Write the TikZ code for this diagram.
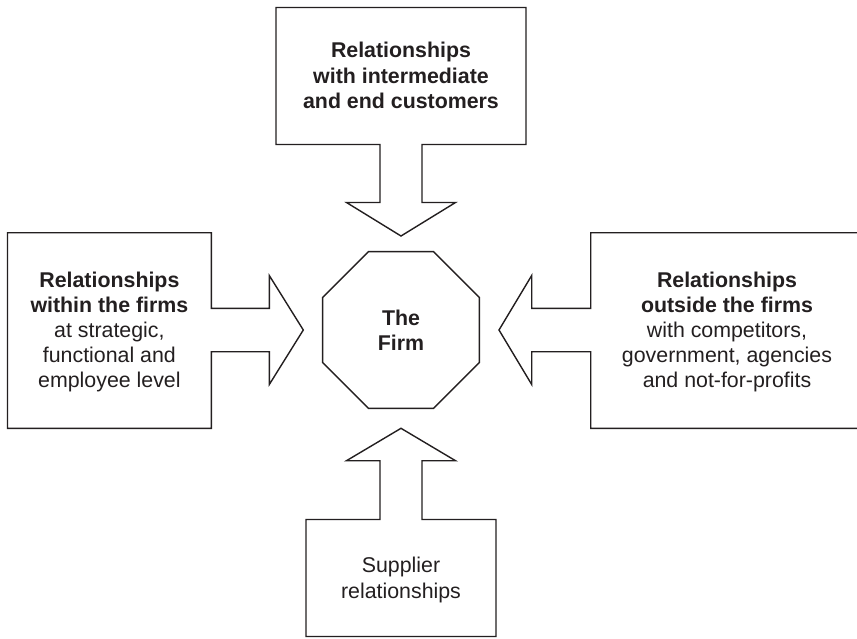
\documentclass[tikz,border=0pt]{standalone}
\usepackage{fontspec}
\setmainfont{Liberation Sans}
\usetikzlibrary{shapes.geometric}
\definecolor{ink}{RGB}{35,31,32}
\begin{document}
\begin{tikzpicture}[x=1pt,y=-1pt,
  outline/.style={draw=ink, line width=1.4pt, line join=miter, fill=white},
  lbl/.style={align=center, text=ink, font=\fontsize{21.35pt}{25.2pt}\selectfont, inner sep=0pt},
  octa/.style={regular polygon, regular polygon sides=8, minimum size=169.8pt, inner sep=0pt, draw=ink, line width=1.4pt}
]
\useasboundingbox (0,0) rectangle (857,638);
\clip (0,0) rectangle (857,638);
% top box with down arrow
\draw[outline] (276,7.5) -- (526,7.5) -- (526,144.5) -- (422,144.5) -- (422,202.5)
  -- (455.5,202.5) -- (401,236) -- (346.5,202.5) -- (380,202.5) -- (380,144.5)
  -- (276,144.5) -- cycle;
% bottom box with up arrow
\draw[outline] (306,636.5) -- (496,636.5) -- (496,519.5) -- (422,519.5) -- (422,460.7)
  -- (455.5,460.7) -- (401,428.3) -- (346.5,460.7) -- (380,460.7) -- (380,519.5)
  -- (306,519.5) -- cycle;
% left box with right arrow
\draw[outline] (7.5,232.7) -- (211.3,232.7) -- (211.3,308.3) -- (269.3,308.3) -- (269.3,275.5)
  -- (303.3,330) -- (269.3,384.5) -- (269.3,351.7) -- (211.3,351.7) -- (211.3,428.3)
  -- (7.5,428.3) -- cycle;
% right box with left arrow
\draw[outline] (870,232.7) -- (590.7,232.7) -- (590.7,308.3) -- (531.7,308.3) -- (531.7,275.5)
  -- (499,330) -- (531.7,384.5) -- (531.7,351.7) -- (590.7,351.7) -- (590.7,428.3)
  -- (870,428.3);
% the firm
\node[octa, lbl, font=\fontsize{21.35pt}{25.2pt}\selectfont\bfseries] (firm) at (401,330) {The\\Firm};
% texts
\node[lbl] (cust) at (401,75.4) {\textbf{Relationships}\\\textbf{with intermediate}\\\textbf{and end customers}};
\node[lbl] (within) at (109.4,332) {\textbf{Relationships}\\\textbf{within the firms}\\at strategic,\\functional and\\employee level};
\node[lbl] (outside) at (727,332) {\textbf{Relationships}\\\textbf{outside the firms}\\with competitors,\\government, agencies\\and not-for-profits};
\node[lbl] (supp) at (401,580) {Supplier\\relationships};
\end{tikzpicture}
\end{document}
